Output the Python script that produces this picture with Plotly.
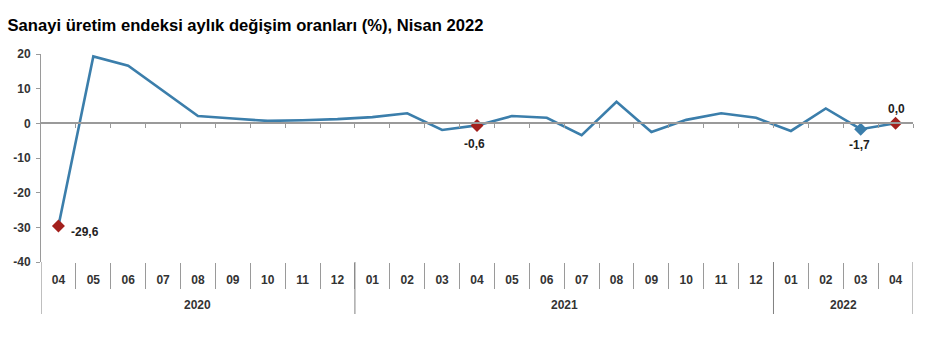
import plotly.graph_objects as go

# Monthly change of the industrial production index (%)
years = ["2020", "2021", "2022"]
months_per_year = [9, 12, 4]
months = ["04", "05", "06", "07", "08", "09", "10", "11", "12",
          "01", "02", "03", "04", "05", "06", "07", "08", "09", "10", "11", "12",
          "01", "02", "03", "04"]
values = [-29.6, 19.3, 16.6, 9.4, 2.1, 1.4, 0.7, 0.9, 1.2,
          1.8, 2.9, -1.9, -0.6, 2.1, 1.6, -3.4, 6.2, -2.5, 1.0, 2.9, 1.6,
          -2.2, 4.3, -1.7, 0.0]
y_ticks = [-40, -30, -20, -10, 0, 10, 20]

# Highlighted points: index, marker colour key, label offset (px)
highlights = [
    (0, "red", dict(xanchor="left", xshift=11, yshift=-6)),
    (12, "red", dict(xanchor="center", xshift=-3, yshift=-19)),
    (23, "blue", dict(xanchor="center", xshift=-1, yshift=-16)),
    (24, "red", dict(xanchor="center", xshift=1, yshift=14)),
]

LINE = "#3b7eab"
RED = "#a3201c"
AXIS = "#9a9a9a"
DIV = "#808080"
TXT = "#333333"
FONT = "Liberation Sans, Arial, sans-serif"

x = list(range(len(values)))
boundaries = [i - 0.5 for i in range(len(values) + 1)]


def fmt(v):
    return f"{v:.1f}".replace(".", ",")


fig = go.Figure()

fig.add_trace(go.Scatter(
    x=x, y=values, mode="lines",
    line=dict(color=LINE, width=2.6), hoverinfo="skip", showlegend=False,
))

for idx, key, off in highlights:
    fig.add_trace(go.Scatter(
        x=[x[idx]], y=[values[idx]], mode="markers",
        marker=dict(symbol="diamond", size=10,
                    color=RED if key == "red" else LINE),
        hoverinfo="skip", showlegend=False,
    ))
    fig.add_annotation(
        x=x[idx], y=values[idx], text=fmt(values[idx]), showarrow=False,
        yanchor="middle", font=dict(family=FONT, size=12, color="#222222",
                                    weight="bold"), **off,
    )

# helper trace so the zero-line axis is drawn
fig.add_trace(go.Scatter(x=[0], y=[0], xaxis="x2", mode="markers",
                         marker=dict(opacity=0), hoverinfo="skip",
                         showlegend=False))

# year dividers and year labels below the month labels
edges = [-0.5]
for n in months_per_year:
    edges.append(edges[-1] + n)
for e in edges:
    fig.add_shape(type="line", xref="x", yref="paper", x0=e, x1=e,
                  y0=0, y1=-0.25, line=dict(color=DIV, width=1))
for yr, a, b in zip(years, edges[:-1], edges[1:]):
    fig.add_annotation(x=(a + b) / 2, xref="x", y=-0.207, yref="paper",
                       text=yr, showarrow=False, yanchor="middle",
                       font=dict(family=FONT, size=12, color=TXT, weight="bold"))

fig.update_layout(
    width=943, height=350,
    margin=dict(l=41, r=30, t=54, b=88),
    paper_bgcolor="white", plot_bgcolor="white",
    title=dict(text="Sanayi üretim endeksi aylık değişim oranları (%), Nisan 2022",
               x=0.008, xanchor="left", y=0.929, yanchor="middle",
               font=dict(family=FONT, size=16.6, color="#000000", weight="bold")),
    xaxis=dict(
        range=[-0.5, 24.5], showgrid=False, zeroline=False, showline=False,
        tickvals=x, ticktext=months,
        ticks="outside", ticklen=7, tickcolor="rgba(0,0,0,0)",
        tickfont=dict(family=FONT, size=12, color=TXT, weight="bold"),
        minor=dict(tickvals=boundaries[1:-1], ticks="outside", ticklen=26,
                   tickcolor=AXIS, tickwidth=1, showgrid=False),
    ),
    xaxis2=dict(
        overlaying="x", anchor="free", position=40 / 60, side="bottom",
        range=[-0.5, 24.5], showgrid=False, zeroline=False,
        showline=True, linecolor=AXIS, linewidth=1.5,
        ticks="outside", ticklen=4, tickcolor=AXIS,
        tickvals=boundaries[1:], showticklabels=False,
    ),
    yaxis=dict(
        range=[-40, 20], showgrid=False, zeroline=False,
        tickvals=y_ticks, ticktext=[str(v) for v in y_ticks],
        showline=True, linecolor=AXIS, linewidth=1,
        ticks="outside", ticklen=4, tickcolor=AXIS, ticklabelstandoff=3,
        tickfont=dict(family=FONT, size=12, color=TXT, weight="bold"),
    ),
)

fig.write_html("out.html")
